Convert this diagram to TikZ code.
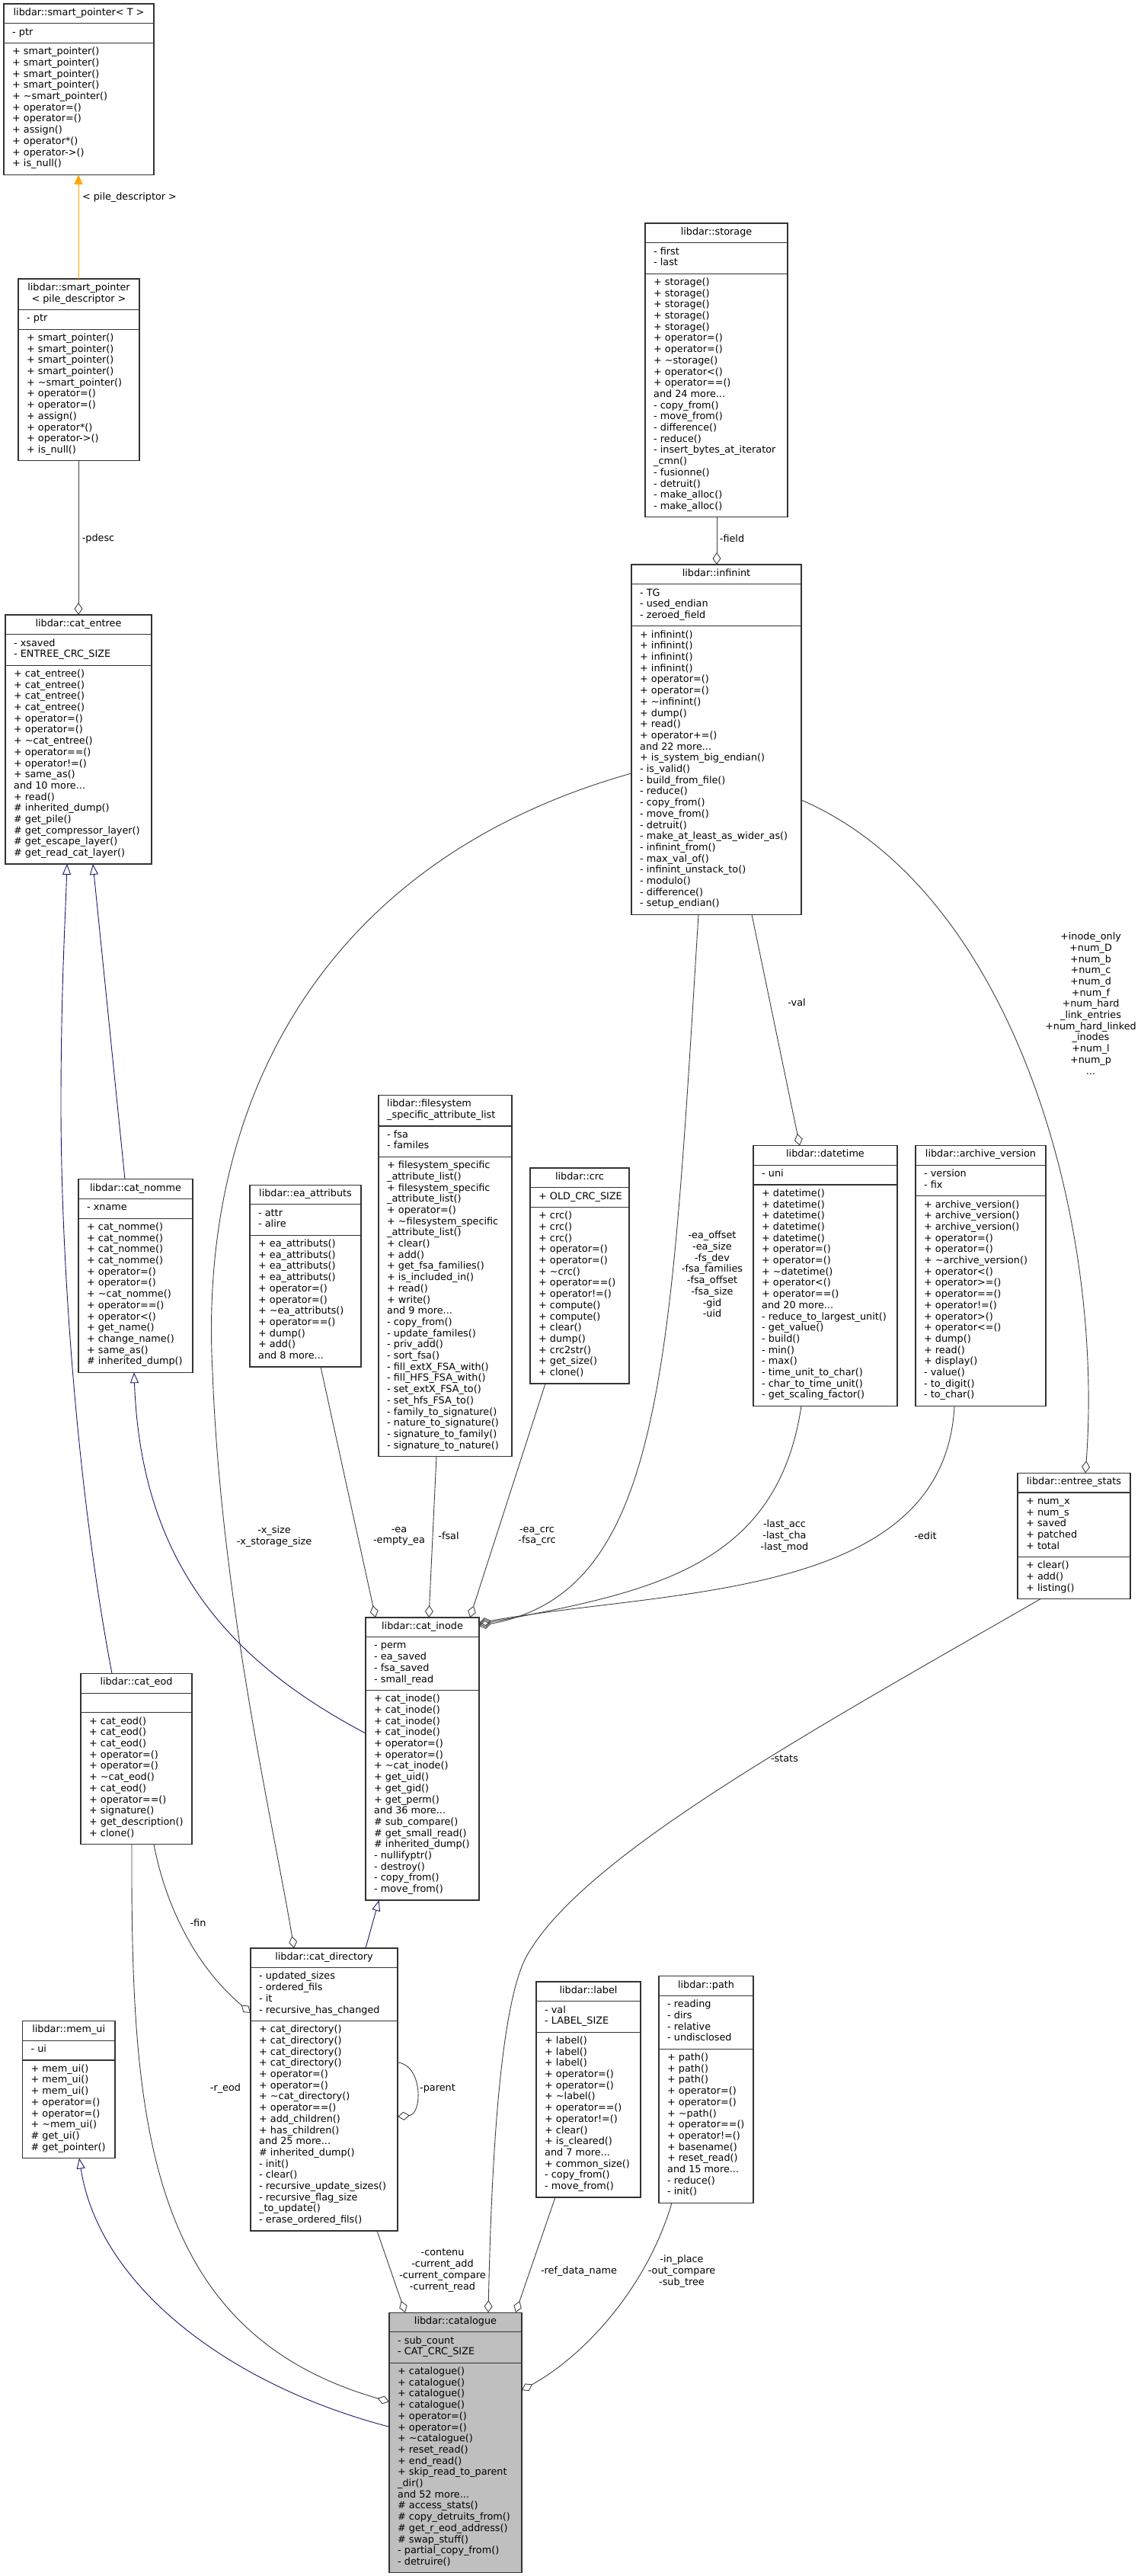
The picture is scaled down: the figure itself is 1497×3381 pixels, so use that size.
\documentclass[tikz,border=0pt]{standalone}
\usepackage{fontspec}
\setmainfont{DejaVu Sans}
\usetikzlibrary{arrows.meta,calc}
\definecolor{midnight}{HTML}{191970}
\definecolor{dorange}{HTML}{FFA500}
\definecolor{edgegray}{HTML}{404040}
\definecolor{focusgray}{HTML}{BFBFBF}
\newcommand\ufont{\fontsize{12.8}{14.7}\selectfont}
\newcommand\ddd{...}
\newcommand\tildech{\textasciitilde}
\newcommand\cnt[2]{\gdef#1{0}\foreach \z [count=\k] in {#2}{\xdef#1{\k}}}
\tikzset{
  umlbox/.style={draw=black!80, line width=1.2pt, inner sep=0pt, outer sep=0pt},
  umlsep/.style={draw=black!80, line width=1.2pt},
  utext/.style={inner sep=0pt, font=\ufont},
  lbl/.style={inner sep=0pt, font=\ufont, align=center},
  usage/.style={draw=edgegray, line width=0.9pt, -{Diamond[open,length=16pt,width=11pt]}},
  inherit/.style={draw=midnight, line width=0.9pt, -{Triangle[open,length=14pt,width=11pt]}},
  templ/.style={draw=dorange, line width=0.9pt, -{Triangle[length=13pt,width=11pt,fill=dorange]}},
}
% #1 fill, #2 name, #3 x, #4 top y, #5 width, #6 title align c/l, #7 title, #8 attrs, #9 methods
\newcommand\ubox[9][white]{%
  \cnt\nT{#7}\cnt\nA{#8}\cnt\nM{#9}%
  \pgfmathsetmacro\hT{\nT*14.7+11}%
  \pgfmathsetmacro\hA{\nA*14.7+11}%
  \pgfmathsetmacro\hM{\nM*14.7+11}%
  \pgfmathsetmacro\hAll{\hT+\hA+\hM}%
  \pgfmathsetmacro\yA{#4+\hT}%
  \pgfmathsetmacro\yM{#4+\hT+\hA}%
  \node[umlbox, fill=#1, minimum width=#5pt, minimum height=\hAll pt, anchor=north west] (#2) at (#3,#4) {};
  \draw[umlsep] (#3,\yA) -- ++(#5,0);
  \draw[umlsep] (#3,\yM) -- ++(#5,0);
  \if#6c
    \foreach \t [count=\i from 0] in {#7} {\node[utext, anchor=base] at ({#3+#5/2},{#4+15.3+\i*14.7}) {\t};}
  \else
    \foreach \t [count=\i from 0] in {#7} {\node[utext, anchor=base west] at ({#3+11},{#4+15.3+\i*14.7}) {\t};}
  \fi
  \foreach \t [count=\i from 0] in {#8} {\node[utext, anchor=base west] at ({#3+11},{\yA+15.3+\i*14.7}) {\t};}
  \foreach \t [count=\i from 0] in {#9} {\node[utext, anchor=base west] at ({#3+11},{\yM+15.3+\i*14.7}) {\t};}
}
\begin{document}
\begin{tikzpicture}[x=1pt,y=-1pt]
\fill[white] (0,0) rectangle (1497,3381);
\useasboundingbox (0,0) rectangle (1497,3381);

% ---------- boxes ----------
\ubox{spT}{5}{5}{197}{c}{libdar::smart\_pointer< T >}{- ptr}
 {+ smart\_pointer(), + smart\_pointer(), + smart\_pointer(), + smart\_pointer(), + \tildech smart\_pointer(), + operator=(), + operator=(), + assign(), + operator*(), + operator->(), + is\_null()}

\ubox{sppd}{24}{366}{159}{c}{libdar::smart\_pointer, < pile\_descriptor >}{- ptr}
 {+ smart\_pointer(), + smart\_pointer(), + smart\_pointer(), + smart\_pointer(), + \tildech smart\_pointer(), + operator=(), + operator=(), + assign(), + operator*(), + operator->(), + is\_null()}

\ubox{centree}{7}{807}{192}{c}{libdar::cat\_entree}{- xsaved, - ENTREE\_CRC\_SIZE}
 {+ cat\_entree(), + cat\_entree(), + cat\_entree(), + cat\_entree(), + operator=(), + operator=(), + \tildech cat\_entree(), + operator==(), + operator!=(), + same\_as(), and 10 more\ddd, + read(), \# inherited\_dump(), \# get\_pile(), \# get\_compressor\_layer(), \# get\_escape\_layer(), \# get\_read\_cat\_layer()}

\ubox{storage}{847}{293}{187}{c}{libdar::storage}{- first, - last}
 {+ storage(), + storage(), + storage(), + storage(), + storage(), + operator=(), + operator=(), + \tildech storage(), + operator<(), + operator==(), and 24 more\ddd, - copy\_from(), - move\_from(), - difference(), - reduce(), - insert\_bytes\_at\_iterator, \_cmn(), - fusionne(), - detruit(), - make\_alloc(), - make\_alloc()}

\ubox{infinint}{829}{741}{223}{c}{libdar::infinint}{- TG, - used\_endian, - zeroed\_field}
 {+ infinint(), + infinint(), + infinint(), + infinint(), + operator=(), + operator=(), + \tildech infinint(), + dump(), + read(), + operator+=(), and 22 more\ddd, + is\_system\_big\_endian(), - is\_valid(), - build\_from\_file(), - reduce(), - copy\_from(), - move\_from(), - detruit(), - make\_at\_least\_as\_wider\_as(), - infinint\_from(), - max\_val\_of(), - infinint\_unstack\_to(), - modulo(), - difference(), - setup\_endian()}

\ubox{cnomme}{103}{1547.75}{150}{c}{libdar::cat\_nomme}{- xname}
 {+ cat\_nomme(), + cat\_nomme(), + cat\_nomme(), + cat\_nomme(), + operator=(), + operator=(), + \tildech cat\_nomme(), + operator==(), + operator<(), + get\_name(), + change\_name(), + same\_as(), \# inherited\_dump()}

\ubox{ea}{328}{1555.1}{146}{c}{libdar::ea\_attributs}{- attr, - alire}
 {+ ea\_attributs(), + ea\_attributs(), + ea\_attributs(), + ea\_attributs(), + operator=(), + operator=(), + \tildech ea\_attributs(), + operator==(), + dump(), + add(), and 8 more\ddd}

\ubox{fsal}{497}{1437.5}{175}{l}{libdar::filesystem, \_specific\_attribute\_list}{- fsa, - familes}
 {+ filesystem\_specific, \_attribute\_list(), + filesystem\_specific, \_attribute\_list(), + operator=(), + \tildech filesystem\_specific, \_attribute\_list(), + clear(), + add(), + get\_fsa\_families(), + is\_included\_in(), + read(), + write(), and 9 more\ddd, - copy\_from(), - update\_familes(), - priv\_add(), - sort\_fsa(), - fill\_extX\_FSA\_with(), - fill\_HFS\_FSA\_with(), - set\_extX\_FSA\_to(), - set\_hfs\_FSA\_to(), - family\_to\_signature(), - nature\_to\_signature(), - signature\_to\_family(), - signature\_to\_nature()}

\ubox{crc}{696}{1533}{130}{c}{libdar::crc}{+ OLD\_CRC\_SIZE}
 {+ crc(), + crc(), + crc(), + operator=(), + operator=(), + \tildech crc(), + operator==(), + operator!=(), + compute(), + compute(), + clear(), + dump(), + crc2str(), + get\_size(), + clone()}

\ubox{datetime}{989}{1503.65}{189}{c}{libdar::datetime}{- uni}
 {+ datetime(), + datetime(), + datetime(), + datetime(), + datetime(), + operator=(), + operator=(), + \tildech datetime(), + operator<(), + operator==(), and 20 more\ddd, - reduce\_to\_largest\_unit(), - get\_value(), - build(), - min(), - max(), - time\_unit\_to\_char(), - char\_to\_time\_unit(), - get\_scaling\_factor()}

\ubox{archive}{1202}{1503.65}{171}{c}{libdar::archive\_version}{- version, - fix}
 {+ archive\_version(), + archive\_version(), + archive\_version(), + operator=(), + operator=(), + \tildech archive\_version(), + operator<(), + operator>=(), + operator==(), + operator!=(), + operator>(), + operator<=(), + dump(), + read(), + display(), - value(), - to\_digit(), - to\_char()}

\ubox{estats}{1336}{1933.35}{148}{c}{libdar::entree\_stats}{+ num\_x, + num\_s, + saved, + patched, + total}
 {+ clear(), + add(), + listing()}

\ubox{cinode}{480}{2122.95}{149}{c}{libdar::cat\_inode}{- perm, - ea\_saved, - fsa\_saved, - small\_read}
 {+ cat\_inode(), + cat\_inode(), + cat\_inode(), + cat\_inode(), + operator=(), + operator=(), + \tildech cat\_inode(), + get\_uid(), + get\_gid(), + get\_perm(), and 36 more\ddd, \# sub\_compare(), \# get\_small\_read(), \# inherited\_dump(), - nullifyptr(), - destroy(), - copy\_from(), - move\_from()}

\ubox{ceod}{106}{2196.45}{146}{c}{libdar::cat\_eod}{\mbox{}}
 {+ cat\_eod(), + cat\_eod(), + cat\_eod(), + operator=(), + operator=(), + \tildech cat\_eod(), + cat\_eod(), + operator==(), + signature(), + get\_description(), + clone()}

\ubox{memui}{29.5}{2652.5}{121.5}{c}{libdar::mem\_ui}{- ui}
 {+ mem\_ui(), + mem\_ui(), + mem\_ui(), + operator=(), + operator=(), + \tildech mem\_ui(), \# get\_ui(), \# get\_pointer()}

\ubox{cdir}{329}{2556.95}{193}{c}{libdar::cat\_directory}{- updated\_sizes, - ordered\_fils, - it, - recursive\_has\_changed}
 {+ cat\_directory(), + cat\_directory(), + cat\_directory(), + cat\_directory(), + operator=(), + operator=(), + \tildech cat\_directory(), + operator==(), + add\_children(), + has\_children(), and 25 more\ddd, \# inherited\_dump(), - init(), - clear(), - recursive\_update\_sizes(), - recursive\_flag\_size, \_to\_update(), - erase\_ordered\_fils()}

\ubox{label}{704}{2601}{137}{c}{libdar::label}{- val, - LABEL\_SIZE}
 {+ label(), + label(), + label(), + operator=(), + operator=(), + \tildech label(), + operator==(), + operator!=(), + clear(), + is\_cleared(), and 7 more\ddd, + common\_size(), - copy\_from(), - move\_from()}

\ubox{path}{865}{2593.7}{124}{c}{libdar::path}{- reading, - dirs, - relative, - undisclosed}
 {+ path(), + path(), + path(), + operator=(), + operator=(), + \tildech path(), + operator==(), + operator!=(), + basename(), + reset\_read(), and 15 more\ddd, - reduce(), - init()}

\ubox[focusgray]{catalogue}{511}{3035.15}{174}{c}{libdar::catalogue}{- sub\_count, - CAT\_CRC\_SIZE}
 {+ catalogue(), + catalogue(), + catalogue(), + catalogue(), + operator=(), + operator=(), + \tildech catalogue(), + reset\_read(), + end\_read(), + skip\_read\_to\_parent, \_dir(), and 52 more\ddd, \# access\_stats(), \# copy\_detruits\_from(), \# get\_r\_eod\_address(), \# swap\_stuff(), - partial\_copy\_from(), - detruire()}

% ---------- connectors ----------
\draw[templ] ($(sppd.north west)+(79,0)$) -- ($(spT.south west)+(98,0)$);
\draw[usage] ($(sppd.south west)+(79,0)$) -- ($(centree.north west)+(96,0)$);
\draw[usage] ($(storage.south west)+(94,0)$) -- ($(infinint.north west)+(112,0)$);
\draw[inherit] ($(cnomme.north west)+(61,0)$) -- ($(centree.south west)+(115,0)$);
\draw[inherit] ($(ceod.north west)+(41,0)$) .. controls (100,1950) and (80,1650) .. (80,1450) .. controls (80,1300) and (86,1200) .. ($(centree.south west)+(81,0)$);
\draw[inherit] ($(cinode.north west)+(0,152)$) .. controls (300,2180) and (185,2050) .. ($(cnomme.south west)+(73,0)$);
\draw[inherit] ($(cdir.north west)+(151,0)$) -- ($(cinode.south west)+(17.5,0)$);
\draw[inherit] ($(catalogue.north west)+(0,150)$) .. controls (300,3130) and (130,3000) .. ($(memui.south west)+(74.5,0)$);
\draw[usage] ($(infinint.north west)+(0,274)$) .. controls (420,1130) and (260,1450) .. (279,1800) .. controls (290,2100) and (360,2400) .. ($(cdir.north west)+(57,0)$);
\draw[usage] ($(ea.south west)+(93,0)$) -- ($(cinode.north west)+(13,0)$);
\draw[usage] ($(fsal.south west)+(76,0)$) -- ($(cinode.north west)+(83,0)$);
\draw[usage] ($(crc.south west)+(20,0)$) -- ($(cinode.north west)+(137,0)$);
\draw[usage] ($(infinint.south west)+(88,0)$) .. controls (880,1800) and (870,2090) .. ($(cinode.north east)+(0,11)$);
\draw[usage] ($(datetime.south west)+(63,0)$) .. controls (1020,2060) and (850,2090) .. ($(cinode.north east)+(0,9)$);
\draw[usage] ($(archive.south west)+(51,0)$) .. controls (1240,2100) and (880,2085) .. ($(cinode.north east)+(0,7)$);
\draw[usage] ($(infinint.south west)+(158,0)$) -- ($(datetime.north west)+(61,0)$);
\draw[usage] ($(infinint.north east)+(0,309)$) .. controls (1330,1170) and (1450,1600) .. ($(estats.north west)+(89,0)$);
\draw[usage] ($(estats.south west)+(30,0)$) .. controls (1050,2280) and (760,2440) .. (690,2570) .. controls (655,2640) and (645,2850) .. ($(catalogue.north west)+(130,0)$);
\draw[usage] ($(ceod.south west)+(96,0)$) .. controls (215,2490) and (250,2575) .. ($(cdir.north west)+(0,85)$);
\draw[usage] ($(ceod.south west)+(67,0)$) .. controls (172,2780) and (190,3060) .. ($(catalogue.north west)+(0,117)$);
\draw[usage] ($(cdir.north east)+(0,150)$) .. controls (555,2710) and (555,2775) .. ($(cdir.north east)+(0,221)$);
\draw[usage] ($(cdir.south west)+(166,0)$) -- ($(catalogue.north west)+(21,0)$);
\draw[usage] ($(label.south west)+(25,0)$) -- ($(catalogue.north west)+(166,0)$);
\draw[usage] ($(path.south west)+(17,0)$) .. controls (850,3000) and (770,3090) .. ($(catalogue.north east)+(0,102)$);

% ---------- labels ----------
\node[lbl] (lpd) at (170,259) {< pile\_descriptor >};
\node[lbl] (lpdesc) at (129,707) {-pdesc};
\node[lbl] (lfield) at (961,707) {-field};
\node[lbl] (lval) at (1046,1316) {-val};
\node[lbl] (linode) at (1432,1317) {+inode\_only\\+num\_D\\+num\_b\\+num\_c\\+num\_d\\+num\_f\\+num\_hard\\\_link\_entries\\+num\_hard\_linked\\\_inodes\\+num\_l\\+num\_p\\\ddd};
\node[lbl] (leaoff) at (935,1672.5) {-ea\_offset\\-ea\_size\\-fs\_dev\\-fsa\_families\\-fsa\_offset\\-fsa\_size\\-gid\\-uid};
\node[lbl] (lxsize) at (360,2016.5) {-x\_size\\-x\_storage\_size};
\node[lbl] (lea) at (524,2016.5) {-ea\\-empty\_ea};
\node[lbl] (lfsal) at (589,2016) {-fsal};
\node[lbl] (lcrc) at (705,2016.5) {-ea\_crc\\-fsa\_crc};
\node[lbl] (llast) at (1030,2016) {-last\_acc\\-last\_cha\\-last\_mod};
\node[lbl] (ledit) at (1215,2016) {-edit};
\node[lbl] (lstats) at (1030,2308) {-stats};
\node[lbl] (lfin) at (260,2524) {-fin};
\node[lbl] (lreod) at (296,2741) {-r\_eod};
\node[lbl] (lparent) at (574.5,2741) {-parent};
\node[lbl] (lcont) at (581,2980) {-contenu\\-current\_add\\-current\_compare\\-current\_read};
\node[lbl] (lref) at (760,2981) {-ref\_data\_name};
\node[lbl] (lpath) at (895,2981) {-in\_place\\-out\_compare\\-sub\_tree};
\end{tikzpicture}
\end{document}
